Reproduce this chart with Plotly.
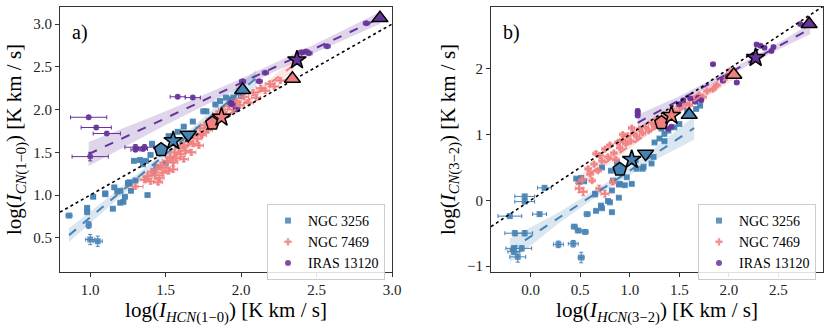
import plotly.graph_objects as go
from plotly.subplots import make_subplots

FONT = "Liberation Serif"

galaxies = ["NGC 3256", "NGC 7469", "IRAS 13120"]
colors = ["#4682b4", "#f08080", "#663399"]
fills = ["rgba(70,130,180,0.2)", "rgba(240,128,128,0.2)", "rgba(102,51,153,0.2)"]
small_symbols = ["square", "cross", "circle"]

# ---- panel a: CN(1-0) vs HCN(1-0), rows are (x, y, xerr, yerr)
a_ngc3256 = [
    (0.86, 0.76, 0.02, 0.02), (0.98, 0.85, 0.015, 0.02), (0.98, 0.80, 0.015, 0.02),
    (0.99, 0.65, 0.015, 0.04), (1.00, 0.48, 0.03, 0.06), (1.05, 0.46, 0.03, 0.06),
    (1.02, 0.98, 0.015, 0.02), (1.10, 1.01, 0.015, 0.02), (1.15, 0.84, 0.015, 0.02),
    (1.16, 1.09, 0.015, 0.02), (1.18, 1.04, 0.015, 0.02), (1.20, 0.91, 0.015, 0.02),
    (1.22, 0.92, 0.015, 0.02), (1.23, 0.98, 0.015, 0.02), (1.25, 1.14, 0.015, 0.02),
    (1.27, 1.05, 0.015, 0.02), (1.26, 1.13, 0.015, 0.02), (1.30, 1.17, 0.015, 0.02),
    (1.38, 1.00, 0.015, 0.02), (1.29, 1.40, 0.015, 0.02), (1.33, 1.41, 0.015, 0.02),
    (1.35, 1.36, 0.015, 0.02), (1.50, 1.37, 0.015, 0.02), (1.42, 1.28, 0.015, 0.02),
    (1.44, 1.33, 0.015, 0.02), (1.20, 1.05, 0.015, 0.02), (1.10, 1.02, 0.015, 0.02),
    (1.26, 1.15, 0.015, 0.02), (1.37, 1.40, 0.015, 0.02), (1.41, 1.60, 0.015, 0.02),
    (1.52, 1.69, 0.015, 0.02), (1.53, 1.66, 0.015, 0.02), (1.77, 1.98, 0.015, 0.02),
    (1.83, 2.06, 0.015, 0.02), (1.94, 2.12, 0.015, 0.02), (2.00, 2.16, 0.015, 0.02),
    (1.86, 2.10, 0.015, 0.02), (1.90, 2.14, 0.015, 0.02), (1.95, 2.14, 0.015, 0.02),
    (1.99, 2.22, 0.015, 0.02), (1.75, 1.98, 0.015, 0.02), (1.62, 1.80, 0.015, 0.02),
    (1.68, 1.86, 0.015, 0.02), (1.58, 1.74, 0.015, 0.02), (1.46, 1.52, 0.015, 0.02),
    (1.40, 1.47, 0.015, 0.02),
]
a_ngc7469 = [
    (1.30, 1.10, 0.05, 0.03), (1.36, 1.18, 0.03, 0.03), (1.38, 1.22, 0.03, 0.03),
    (1.40, 1.16, 0.03, 0.03), (1.41, 1.27, 0.03, 0.03), (1.43, 1.23, 0.05, 0.04),
    (1.44, 1.30, 0.03, 0.03), (1.46, 1.20, 0.03, 0.03), (1.47, 1.35, 0.03, 0.03),
    (1.48, 1.26, 0.03, 0.03), (1.50, 1.32, 0.03, 0.03), (1.51, 1.40, 0.03, 0.03),
    (1.52, 1.28, 0.03, 0.03), (1.53, 1.45, 0.03, 0.03), (1.55, 1.38, 0.03, 0.03),
    (1.56, 1.50, 0.03, 0.03), (1.57, 1.43, 0.03, 0.03), (1.59, 1.55, 0.03, 0.03),
    (1.60, 1.48, 0.03, 0.03), (1.62, 1.58, 0.03, 0.03), (1.63, 1.52, 0.03, 0.03),
    (1.65, 1.62, 0.03, 0.03), (1.66, 1.68, 0.03, 0.03), (1.68, 1.60, 0.03, 0.03),
    (1.70, 1.72, 0.03, 0.03), (1.71, 1.66, 0.03, 0.03), (1.73, 1.78, 0.03, 0.03),
    (1.74, 1.70, 0.03, 0.03), (1.76, 1.82, 0.03, 0.03), (1.78, 1.76, 0.03, 0.03),
    (1.80, 1.88, 0.03, 0.03), (1.82, 1.83, 0.03, 0.03), (1.84, 1.95, 0.03, 0.03),
    (1.86, 1.90, 0.03, 0.03), (1.88, 2.00, 0.03, 0.03), (1.90, 1.94, 0.03, 0.03),
    (1.92, 2.04, 0.03, 0.03), (1.95, 2.00, 0.03, 0.03), (1.97, 2.10, 0.03, 0.03),
    (1.99, 2.05, 0.03, 0.03), (2.02, 2.15, 0.03, 0.03), (2.05, 2.08, 0.03, 0.03),
    (2.08, 2.20, 0.03, 0.03), (2.10, 2.14, 0.03, 0.03), (2.13, 2.25, 0.03, 0.03),
    (2.16, 2.22, 0.03, 0.03), (2.19, 2.30, 0.03, 0.03), (2.22, 2.27, 0.03, 0.03),
    (2.26, 2.34, 0.03, 0.03), (1.55, 1.30, 0.03, 0.03), (1.62, 1.42, 0.03, 0.03),
    (1.45, 1.15, 0.03, 0.03), (1.67, 1.50, 0.03, 0.03), (1.72, 1.58, 0.03, 0.03),
]
a_iras13120 = [
    (0.99, 1.91, 0.12, 0.02), (1.04, 1.79, 0.10, 0.02), (1.11, 1.72, 0.09, 0.02),
    (1.00, 1.45, 0.12, 0.05), (1.30, 1.56, 0.07, 0.03), (1.36, 1.56, 0.06, 0.03),
    (1.58, 2.15, 0.05, 0.02), (1.68, 2.14, 0.05, 0.02), (1.30, 1.53, 0.03, 0.02),
    (1.35, 1.54, 0.03, 0.02), (1.94, 2.06, 0.02, 0.02), (1.97, 2.00, 0.02, 0.02),
    (2.12, 2.33, 0.02, 0.02), (2.16, 2.43, 0.02, 0.02), (2.43, 2.68, 0.02, 0.02),
    (2.40, 2.67, 0.02, 0.02), (2.45, 2.66, 0.02, 0.02), (2.57, 2.74, 0.02, 0.02),
    (2.83, 3.01, 0.02, 0.02), (2.01, 2.33, 0.02, 0.02), (1.93, 2.08, 0.02, 0.02),
]

# ---- panel b: CN(3-2) vs HCN(3-2)
b_ngc3256 = [
    (-0.21, -0.24, 0.12, 0.03), (-0.16, -0.50, 0.10, 0.04), (-0.06, -0.50, 0.08, 0.04),
    (-0.17, -0.73, 0.08, 0.04), (-0.09, -0.73, 0.10, 0.04), (-0.13, -0.86, 0.08, 0.08),
    (-0.17, -0.78, 0.06, 0.04), (-0.06, 0.06, 0.10, 0.03), (-0.06, -0.02, 0.10, 0.03),
    (0.14, 0.19, 0.07, 0.03), (0.09, -0.21, 0.07, 0.03), (0.28, -0.67, 0.05, 0.05),
    (0.43, -0.66, 0.05, 0.05), (0.44, -0.40, 0.03, 0.03), (0.48, -0.46, 0.03, 0.03),
    (0.55, -0.48, 0.03, 0.03), (0.51, -0.87, 0.03, 0.08), (0.57, -0.21, 0.03, 0.03),
    (0.51, 0.34, 0.02, 0.02), (0.54, 0.29, 0.02, 0.02), (0.65, 0.09, 0.02, 0.02),
    (0.71, -0.08, 0.02, 0.02), (0.72, -0.12, 0.02, 0.02), (0.82, -0.18, 0.02, 0.02),
    (0.80, -0.03, 0.02, 0.02), (0.89, 0.04, 0.02, 0.02), (0.89, 0.24, 0.02, 0.02),
    (0.82, 0.15, 0.02, 0.02), (0.95, 0.23, 0.02, 0.02), (1.32, 1.09, 0.02, 0.02),
    (1.39, 1.06, 0.02, 0.02), (1.25, 0.88, 0.02, 0.02), (1.35, 0.90, 0.02, 0.02),
    (1.13, 0.48, 0.02, 0.02), (1.07, 0.48, 0.02, 0.02), (1.02, 0.25, 0.02, 0.02),
    (0.90, 0.25, 0.02, 0.02), (0.97, 0.35, 0.02, 0.02), (0.83, 0.30, 0.02, 0.02),
    (0.87, 0.58, 0.02, 0.02), (0.81, 0.45, 0.02, 0.02), (0.72, 0.50, 0.02, 0.02),
    (0.78, -0.01, 0.02, 0.02), (0.66, -0.16, 0.02, 0.02), (0.65, 0.10, 0.02, 0.02),
    (0.46, 0.33, 0.02, 0.02), (0.49, 0.28, 0.02, 0.02), (1.45, 1.11, 0.02, 0.02),
    (1.50, 1.16, 0.02, 0.02), (1.71, 1.44, 0.02, 0.02), (1.67, 1.39, 0.02, 0.02),
    (1.58, 1.36, 0.02, 0.02), (1.35, 1.01, 0.02, 0.02), (1.30, 0.94, 0.02, 0.02),
    (1.24, 0.66, 0.02, 0.02), (1.22, 0.56, 0.02, 0.02), (1.14, 0.51, 0.02, 0.02),
    (1.06, 0.61, 0.02, 0.02),
]
b_ngc7469 = [
    (0.49, 0.18, 0.04, 0.06), (0.53, 0.13, 0.04, 0.06), (0.69, 0.18, 0.03, 0.05),
    (0.75, 0.10, 0.04, 0.05), (0.83, 0.28, 0.03, 0.04), (0.52, 0.31, 0.03, 0.03),
    (0.60, 0.40, 0.03, 0.03), (0.64, 0.55, 0.03, 0.03), (0.66, 0.71, 0.03, 0.03),
    (0.70, 0.68, 0.03, 0.03), (0.72, 0.60, 0.03, 0.03), (0.75, 0.78, 0.03, 0.03),
    (0.78, 0.66, 0.03, 0.03), (0.80, 0.84, 0.03, 0.03), (0.84, 0.72, 0.03, 0.03),
    (0.86, 0.62, 0.03, 0.03), (0.88, 0.88, 0.03, 0.03), (0.90, 0.80, 0.03, 0.03),
    (0.93, 0.92, 0.03, 0.03), (0.96, 0.86, 0.03, 0.03), (0.98, 0.98, 0.03, 0.03),
    (1.01, 0.90, 0.03, 0.03), (1.04, 1.02, 0.03, 0.03), (1.07, 0.97, 0.03, 0.03),
    (1.10, 1.08, 0.03, 0.03), (1.13, 1.02, 0.03, 0.03), (1.16, 1.12, 0.03, 0.03),
    (1.19, 1.06, 0.03, 0.03), (1.22, 1.18, 0.03, 0.03), (1.25, 1.12, 0.03, 0.03),
    (1.28, 1.24, 0.03, 0.03), (1.31, 1.20, 0.03, 0.03), (1.35, 1.30, 0.03, 0.03),
    (1.40, 1.27, 0.03, 0.03), (1.45, 1.36, 0.03, 0.03), (1.50, 1.42, 0.03, 0.03),
    (1.55, 1.48, 0.03, 0.03), (1.60, 1.45, 0.03, 0.03), (1.65, 1.55, 0.03, 0.03),
    (1.70, 1.60, 0.03, 0.03), (1.74, 1.57, 0.03, 0.03), (1.78, 1.66, 0.03, 0.03),
    (1.84, 1.69, 0.03, 0.03), (1.88, 1.75, 0.03, 0.03), (1.95, 1.84, 0.03, 0.03),
    (2.01, 1.97, 0.03, 0.03), (0.58, 0.48, 0.03, 0.03), (0.62, 0.30, 0.03, 0.03),
    (0.68, 0.45, 0.03, 0.03), (0.93, 1.00, 0.03, 0.03), (1.02, 1.10, 0.03, 0.03),
]
b_iras13120 = [
    (1.08, 1.36, 0.02, 0.03), (1.08, 1.29, 0.02, 0.03), (1.08, 1.33, 0.02, 0.03),
    (1.84, 2.07, 0.02, 0.02), (1.54, 1.52, 0.02, 0.02), (1.61, 1.55, 0.02, 0.02),
    (1.69, 1.56, 0.02, 0.02), (1.72, 1.52, 0.02, 0.02), (1.66, 1.50, 0.02, 0.02),
    (1.94, 1.82, 0.02, 0.02), (1.99, 1.89, 0.02, 0.02), (2.08, 1.79, 0.02, 0.02),
    (2.28, 2.37, 0.02, 0.02), (2.32, 2.35, 0.02, 0.02), (2.36, 2.32, 0.02, 0.02),
    (2.43, 2.27, 0.02, 0.02), (2.45, 2.33, 0.02, 0.02), (2.72, 2.68, 0.02, 0.02),
    (2.76, 2.66, 0.02, 0.02), (1.39, 1.09, 0.02, 0.02), (1.42, 1.12, 0.02, 0.02),
    (1.50, 1.46, 0.02, 0.02),
]

# fits: slope, intercept, sample x of the band and its half width
a_fit_slope = [1.48, 1.35, 0.824]
a_fit_icpt = [-0.742, -0.65, 0.664]
a_band_x = [[0.86, 1.2, 1.5, 1.8, 2.1], [1.35, 1.6, 1.85, 2.1, 2.35], [0.99, 1.5, 2.0, 2.5, 2.92]]
a_band_hw = [[0.08, 0.05, 0.04, 0.06, 0.10], [0.07, 0.04, 0.03, 0.04, 0.07], [0.14, 0.08, 0.05, 0.05, 0.07]]

b_fit_slope = [1.0, 1.05, 0.82]
b_fit_icpt = [-0.55, -0.22, 0.294]
b_band_x = [[-0.21, 0.3, 0.8, 1.2, 1.65], [0.45, 0.85, 1.25, 1.65, 2.05], [1.08, 1.5, 2.0, 2.5, 2.82]]
b_band_hw = [[0.18, 0.08, 0.05, 0.08, 0.18], [0.10, 0.05, 0.03, 0.05, 0.10], [0.12, 0.06, 0.04, 0.05, 0.08]]

# big highlighted markers: (galaxy index, symbol, x, y)
a_big = [
    (0, "pentagon", 1.47, 1.53), (0, "star", 1.55, 1.635), (0, "triangle-down", 1.65, 1.705),
    (0, "triangle-up", 2.01, 2.23), (1, "pentagon", 1.81, 1.84), (1, "star", 1.87, 1.91),
    (1, "triangle-up", 2.34, 2.36), (2, "star", 2.37, 2.58), (2, "triangle-up", 2.92, 3.07),
]
b_big = [
    (0, "pentagon", 0.90, 0.47), (0, "star", 1.02, 0.62), (0, "triangle-down", 1.16, 0.71),
    (0, "triangle-up", 1.60, 1.30), (1, "pentagon", 1.32, 1.18), (1, "star", 1.42, 1.29),
    (1, "triangle-up", 2.05, 1.91), (2, "star", 2.27, 2.17), (2, "triangle-up", 2.81, 2.68),
]

a_xrange = [0.8, 3.0]
a_yrange = [0.1, 3.2]
b_xrange = [-0.4, 2.95]
b_yrange = [-1.09, 2.94]

fig = make_subplots(rows=1, cols=2)


def add_panel(col, sets, slopes, icpts, band_x, band_hw, big, xr, legend):
    # confidence bands
    for i in range(3):
        mid = [slopes[i] * x + icpts[i] for x in band_x[i]]
        up = [m + h for m, h in zip(mid, band_hw[i])]
        lo = [m - h for m, h in zip(mid, band_hw[i])]
        fig.add_trace(go.Scatter(
            x=band_x[i] + band_x[i][::-1], y=up + lo[::-1], fill="toself",
            fillcolor=fills[i], line=dict(width=0), mode="lines",
            showlegend=False, hoverinfo="skip"), row=1, col=col)
    # data points
    for i, pts in enumerate(sets):
        fig.add_trace(go.Scatter(
            x=[p[0] for p in pts], y=[p[1] for p in pts], mode="markers",
            name=galaxies[i], legend=legend,
            marker=dict(symbol=small_symbols[i], size=6, color=colors[i], opacity=0.85),
            error_x=dict(type="data", array=[p[2] for p in pts], color=colors[i], thickness=1, width=2),
            error_y=dict(type="data", array=[p[3] for p in pts], color=colors[i], thickness=1, width=2),
        ), row=1, col=col)
    # fit lines
    for i in range(3):
        xs = [band_x[i][0], band_x[i][-1]]
        fig.add_trace(go.Scatter(
            x=xs, y=[slopes[i] * x + icpts[i] for x in xs], mode="lines",
            line=dict(color=colors[i], width=2, dash="dash"), showlegend=False), row=1, col=col)
    # one-to-one line
    fig.add_trace(go.Scatter(x=xr, y=xr, mode="lines", line=dict(color="black", width=1.6, dash="dot"),
                             showlegend=False), row=1, col=col)
    # highlighted markers
    for gi, sym, x, y in big:
        fig.add_trace(go.Scatter(
            x=[x], y=[y], mode="markers", showlegend=False,
            marker=dict(symbol=sym, size=14, color=colors[gi], line=dict(color="black", width=1.5))),
            row=1, col=col)


add_panel(1, [a_ngc3256, a_ngc7469, a_iras13120], a_fit_slope, a_fit_icpt, a_band_x, a_band_hw,
          a_big, a_xrange, "legend")
add_panel(2, [b_ngc3256, b_ngc7469, b_iras13120], b_fit_slope, b_fit_icpt, b_band_x, b_band_hw,
          b_big, b_xrange, "legend2")

ydom = [(328 - 272) / 328, (328 - 7) / 328]
axis_common = dict(showgrid=False, zeroline=False, showline=True, mirror=True, linecolor="#333333",
                   linewidth=1.2, ticks="outside", ticklen=4, tickcolor="#333333", automargin=False,
                   tickfont=dict(family=FONT, size=15, color="#222222"))
title_font = dict(family=FONT, size=21, color="black")

fig.update_xaxes(axis_common)
fig.update_yaxes(axis_common)

legend_style = dict(xanchor="right", yanchor="top", bgcolor="rgba(255,255,255,0.85)",
                    bordercolor="#cccccc", borderwidth=1, tracegroupgap=0,
                    font=dict(family=FONT, size=14))

fig.update_layout(
    width=830, height=328, margin=dict(l=0, r=0, t=0, b=0),
    paper_bgcolor="white", plot_bgcolor="white",
    font=dict(family=FONT, size=15, color="black"),
    xaxis=dict(domain=[60 / 830, 392 / 830], range=a_xrange, dtick=0.5, tick0=0, tickformat=".1f",
               title=dict(text="log(<i>I</i><sub><i>HCN</i>(1−0)</sub>) [K km / s]", font=title_font, standoff=0)),
    yaxis=dict(domain=ydom, range=a_yrange, dtick=0.5, tick0=0, tickformat=".1f",
               title=dict(text="log(<i>I</i><sub><i>CN</i>(1−0)</sub>) [K km / s]", font=title_font, standoff=5)),
    xaxis2=dict(domain=[491 / 830, 823 / 830], range=b_xrange, dtick=0.5, tick0=0, tickformat=".1f",
                title=dict(text="log(<i>I</i><sub><i>HCN</i>(3−2)</sub>) [K km / s]", font=title_font, standoff=0)),
    yaxis2=dict(domain=ydom, range=b_yrange, dtick=1, tick0=0,
                title=dict(text="log(<i>I</i><sub><i>CN</i>(3−2)</sub>) [K km / s]", font=title_font, standoff=5)),
    legend=dict(x=385 / 830, y=(328 - 204) / 328, **legend_style),
    legend2=dict(x=816 / 830, y=(328 - 204) / 328, **legend_style),
    annotations=[
        dict(text="a)", x=0.03, y=0.955, xref="x domain", yref="y domain", showarrow=False,
             xanchor="left", yanchor="top", font=dict(family=FONT, size=20)),
        dict(text="b)", x=0.03, y=0.955, xref="x2 domain", yref="y2 domain", showarrow=False,
             xanchor="left", yanchor="top", font=dict(family=FONT, size=20)),
    ],
)

# the page's default body margin would shift the figure out of the window
fig.write_html("out.html", config={"displayModeBar": False},
               post_script="document.body.style.margin = '0px';")
